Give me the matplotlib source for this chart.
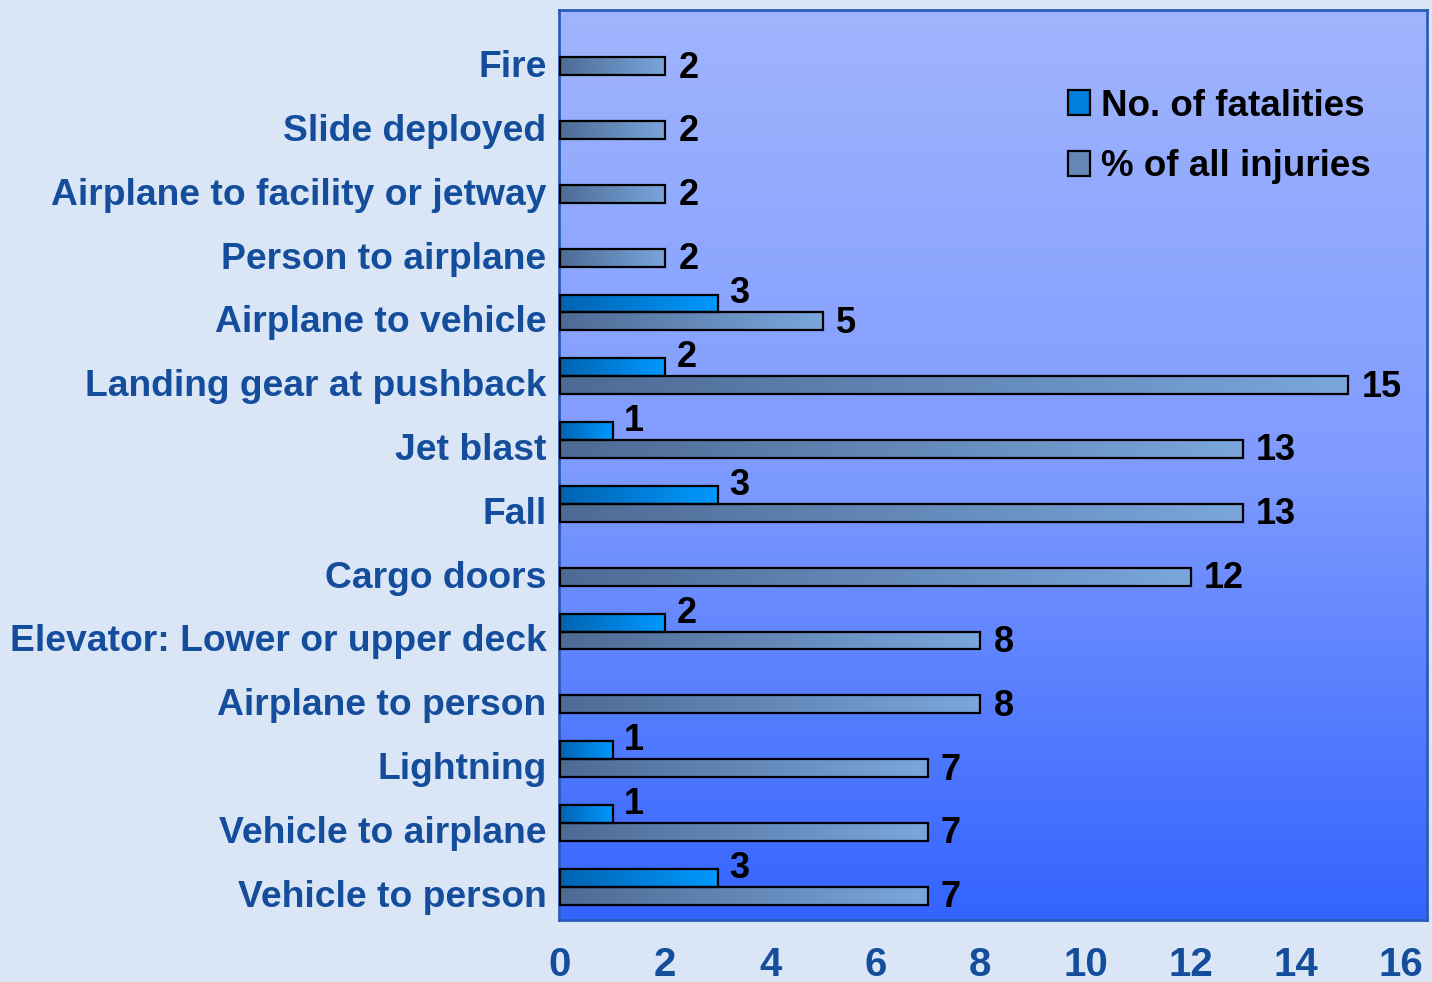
import numpy as np
import matplotlib.pyplot as plt
from matplotlib.colors import LinearSegmentedColormap
from matplotlib.patches import Patch

categories = ["Fire", "Slide deployed", "Airplane to facility or jetway",
              "Person to airplane", "Airplane to vehicle", "Landing gear at pushback",
              "Jet blast", "Fall", "Cargo doors", "Elevator: Lower or upper deck",
              "Airplane to person", "Lightning", "Vehicle to airplane", "Vehicle to person"]
fatalities = [None, None, None, None, 3, 2, 1, 3, None, 2, None, 1, 1, 3]
injuries = [2, 2, 2, 2, 5, 15, 13, 13, 12, 8, 8, 7, 7, 7]
xticks = [0, 2, 4, 6, 8, 10, 12, 14, 16]

fat_colors = ("#0063b0", "#0099ff")
inj_colors = ("#4d6b94", "#7aa6dc")
label_blue = "#134d9c"
font = ["Liberation Sans", "DejaVu Sans"]
plt.rcParams['font.family'] = font


def fill_gradient(ax, patch, c0, c1):
    x0, y0 = patch.get_x(), patch.get_y()
    w, h = patch.get_width(), patch.get_height()
    grad = np.linspace(0, 1, 256).reshape(1, -1)
    cmap = LinearSegmentedColormap.from_list("g", [c0, c1])
    im = ax.imshow(grad, cmap=cmap, extent=[x0, x0 + w, y0, y0 + h],
                   aspect='auto', zorder=2, interpolation='bilinear')
    im.set_clip_path(patch)


fig = plt.figure(figsize=(14.32, 9.82), dpi=100, facecolor="#dae6f5")
ax = fig.add_axes([559 / 1432, 1 - 920 / 982, 868 / 1432, 910 / 982])

# axes background gradient
bg = np.linspace(0, 1, 256).reshape(-1, 1)
bg_cmap = LinearSegmentedColormap.from_list("bg", ["#a0b5fd", "#7f9bff", "#3464fe"])
ax.imshow(bg, cmap=bg_cmap, extent=[0, 1, 0, 1], transform=ax.transAxes,
          aspect='auto', zorder=0)

pos = np.arange(len(categories))
h = 0.28

fi = [i for i, v in enumerate(fatalities) if v is not None]
fv = [fatalities[i] for i in fi]
fat_bars = ax.barh(pos[fi] - h / 2, fv, height=h, facecolor='none',
                   edgecolor='black', linewidth=1.6, zorder=3)
inj_bars = ax.barh(pos + h / 2, injuries, height=h, facecolor='none',
                   edgecolor='black', linewidth=1.6, zorder=3)

for p in fat_bars:
    fill_gradient(ax, p, *fat_colors)
for p in inj_bars:
    fill_gradient(ax, p, *inj_colors)

for i, v in zip(fi, fv):
    ax.text(v + 0.22, pos[i] - h / 2 - 0.15, str(v), ha='left', va='center',
            fontsize=26, fontweight='bold', color='black', zorder=4)
for i, v in enumerate(injuries):
    ax.text(v + 0.25, pos[i] + h / 2 + 0.03, str(v), ha='left', va='center',
            fontsize=26, fontweight='bold', color='black', zorder=4)

ax.set_xlim(-0.02, 16.5)
ax.set_ylim(13.52, -0.74)
ax.set_yticks(pos + 0.1)
ax.set_yticklabels(categories, fontsize=26.8, fontweight='bold', color=label_blue)
ax.set_xticks(xticks)
ax.set_xticklabels([str(t) for t in xticks], fontsize=29, fontweight='bold',
                   color=label_blue)
ax.tick_params(axis='both', length=0)
ax.tick_params(axis='x', pad=19)
ax.tick_params(axis='y', pad=9)
for s in ax.spines.values():
    s.set_color("#2b5cb8")
    s.set_linewidth(2)

handles = [Patch(facecolor="#0080dd", edgecolor='black', linewidth=1.6),
           Patch(facecolor="#6388b8", edgecolor='black', linewidth=1.6)]
leg = ax.legend(handles, ["No. of fatalities", "% of all injuries"],
                loc='upper right', bbox_to_anchor=(0.973, 0.95), frameon=False,
                handlelength=0.6, handleheight=0.65, handletextpad=0.3,
                labelspacing=0.7, borderpad=0.4,
                prop={'size': 26.5, 'weight': 'bold'})

fig.savefig("out.png", dpi=100, facecolor=fig.get_facecolor())
